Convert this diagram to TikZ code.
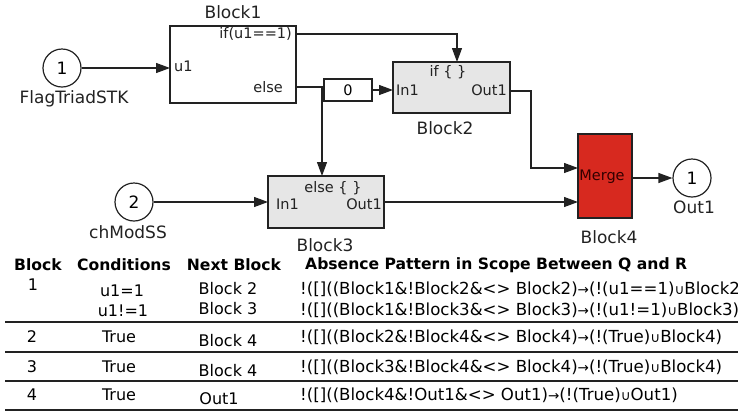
\documentclass[tikz,border=0pt]{standalone}
\usepackage{fontspec}
\setmainfont{DejaVu Sans}
\usetikzlibrary{arrows.meta}
\newcommand\myarrow{{\fontsize{13.5}{13.5}\selectfont →}}
\newcommand\myunion{{\fontsize{13.5}{13.5}\selectfont ∪}}
\definecolor{linecol}{HTML}{222222}
\definecolor{blkgray}{HTML}{E6E6E6}
\definecolor{mergered}{HTML}{D7291F}
\begin{document}
\begin{tikzpicture}[x=1pt,y=-1pt,
  wire/.style={line width=1.2pt, draw=linecol},
  arr/.style={wire, -{Triangle[length=14pt,width=10pt]}},
  blk/.style={draw=linecol, line width=1.2pt, inner sep=0pt},
  port/.style={font=\fontsize{14.5}{14.5}\selectfont, inner sep=0pt, text=linecol},
  lbl/.style={font=\fontsize{17}{17}\selectfont, inner sep=0pt, text=linecol},
  io/.style={circle, draw=linecol, line width=1.2pt, minimum size=38pt, inner sep=0pt, font=\fontsize{17}{17}\selectfont},
  tb/.style={font=\fontsize{16}{16}\selectfont, inner sep=0pt},
  tf/.style={font=\fontsize{16.6}{16.6}\selectfont, inner sep=0pt, anchor=west},
  th/.style={font=\bfseries\fontsize{15.6}{15.6}\selectfont, inner sep=0pt},
  tablerule/.style={line width=1.5pt, draw=linecol}
]
\clip (0,0) rectangle (738,413);
\fill[white] (0,0) rectangle (738,413);

% --- inports / outport
\node[io] (c1) at (62,68) {1};
\node[lbl] (c1l) at (74,99) {FlagTriadSTK};
\node[io] (c2) at (134,202) {2};
\node[lbl] (c2l) at (128,232) {chModSS};
\node[io] (o1) at (692,178) {1};
\node[lbl] (o1l) at (694,207) {Out1};

% --- Block1
\node[blk, fill=white, minimum width=126pt, minimum height=77pt] (b1) at (233,64.5) {};
\node[lbl] (b1l) at (233,12) {Block1};
\node[port, anchor=west] (b1u) at (174,66) {u1};
\node[port, anchor=east] (b1if) at (292,34) {if(u1==1)};
\node[port, anchor=east] (b1el) at (283,87) {else};
\coordinate (p1if) at (296,34);
\coordinate (p1el) at (296,87);
\coordinate (p1in) at (170,68);

% --- constant 0
\node[blk, fill=white, minimum width=48pt, minimum height=22pt, font=\fontsize{14.5}{14.5}\selectfont] (k0) at (348,90) {0};

% --- Block2
\node[blk, fill=blkgray, minimum width=117pt, minimum height=51pt] (b2) at (451.5,87.5) {};
\node[lbl] (b2l) at (445,128) {Block2};
\node[port] (b2if) at (448,72) {if \{ \}};
\node[port, anchor=west] (b2in) at (396,90) {In1};
\node[port, anchor=east] (b2out) at (507,90) {Out1};
\coordinate (p2top) at (457,62);
\coordinate (p2in) at (393,90);
\coordinate (p2out) at (510,91);

% --- Block3
\node[blk, fill=blkgray, minimum width=116pt, minimum height=52pt] (b3) at (326,202) {};
\node[lbl] (b3l) at (325,245) {Block3};
\node[port] (b3el) at (333,188) {else \{ \}};
\node[port, anchor=west] (b3in) at (276,204) {In1};
\node[port, anchor=east] (b3out) at (382,204) {Out1};
\coordinate (p3top) at (322,176);
\coordinate (p3in) at (268,202);
\coordinate (p3out) at (384,202);

% --- Block4 (Merge)
\node[blk, fill=mergered, minimum width=54pt, minimum height=84pt] (b4) at (605,176) {};
\node[port, text=black!80!red] (b4t) at (602,177) {Merge};
\node[lbl] (b4l) at (609,237) {Block4};
\coordinate (p4a) at (578,168);
\coordinate (p4b) at (578,202);
\coordinate (p4out) at (632,178);

% --- connectors
\draw[arr] (c1) -- (p1in);
\draw[arr] (p1if) -| (p2top);
\draw[arr] (p1el) -| (p3top);
\draw[arr] (k0) -- (p2in);
\draw[arr] (c2) -- (p3in);
\draw[arr] (p2out) -| (531,168) -- (p4a);
\draw[arr] (p3out) -- (p4b);
\draw[arr] (p4out) -- (o1);

% --- table header
\node[th] (h1) at (38,265) {Block};
\node[th] (h2) at (124,265) {Conditions};
\node[th] (h3) at (234,265) {Next Block};
\node[th, anchor=west] (h4) at (305,265) {Absence Pattern in Scope Between Q and R};

% row 1
\node[tb] (r1a) at (33,285) {1};
\node[tb] (r1b) at (122,291) {u1=1};
\node[tb] (r1c) at (228,289) {Block 2};
\node[tf] (r1d) at (300,289) {!([]((Block1\&!Block2\&<> Block2)\myarrow(!(u1==1)\myunion Block2)};
\node[tb] (r1e) at (123,311) {u1!=1};
\node[tb] (r1f) at (228,309) {Block 3};
\node[tf] (r1g) at (300,310) {!([]((Block1\&!Block3\&<> Block3)\myarrow(!(u1!=1)\myunion Block3)};
\coordinate (l1a) at (5,322);
\coordinate (l1b) at (738,322);
\draw[tablerule] (l1a) -- (l1b);

% row 2
\node[tb] (r2a) at (32,337) {2};
\node[tb] (r2b) at (119,337) {True};
\node[tb] (r2c) at (228,341) {Block 4};
\node[tf] (r2d) at (300,337) {!([]((Block2\&!Block4\&<> Block4)\myarrow(!(True)\myunion Block4)};
\coordinate (l2a) at (5,352);
\coordinate (l2b) at (738,352);
\draw[tablerule] (l2a) -- (l2b);

% row 3
\node[tb] (r3a) at (32,367) {3};
\node[tb] (r3b) at (119,367) {True};
\node[tb] (r3c) at (228,371) {Block 4};
\node[tf] (r3d) at (300,367) {!([]((Block3\&!Block4\&<> Block4)\myarrow(!(True)\myunion Block4)};
\coordinate (l3a) at (5,381);
\coordinate (l3b) at (738,381);
\draw[tablerule] (l3a) -- (l3b);

% row 4
\node[tb] (r4a) at (32,395) {4};
\node[tb] (r4b) at (119,395) {True};
\node[tb] (r4c) at (219,399) {Out1};
\node[tf] (r4d) at (300,395) {!([]((Block4\&!Out1\&<> Out1)\myarrow(!(True)\myunion Out1)};
\coordinate (l4a) at (5,410);
\coordinate (l4b) at (738,410);
\draw[tablerule] (l4a) -- (l4b);
\end{tikzpicture}
\end{document}
